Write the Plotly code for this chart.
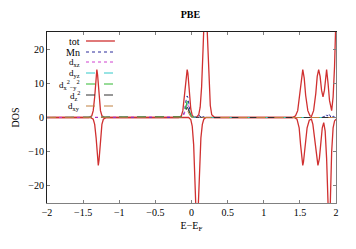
import plotly.graph_objects as go

# ---------------- data ----------------
E_up = [-2.0, -1.42, -1.38, -1.36, -1.34, -1.32, -1.31, -1.30, -1.28, -1.26, -1.24, -1.20,
        -0.18, -0.14, -0.12, -0.10, -0.08, -0.06, -0.05, -0.03, -0.01, 0.01, 0.04,
        0.07, 0.10, 0.12, 0.14, 0.16, 0.18, 0.19, 0.20, 0.22, 0.24, 0.26, 0.28, 0.32,
        1.40, 1.44, 1.47, 1.50, 1.52, 1.54, 1.56, 1.58, 1.61, 1.64,
        1.66, 1.69, 1.72, 1.74, 1.76, 1.78, 1.80, 1.82, 1.84, 1.86,
        1.87, 1.89, 1.91, 1.94, 1.96, 1.98, 2.0]
tot_up = [0, 0, 0.5, 2, 6, 12, 14, 12.5, 6.5, 2, 0.5, 0,
          0, 0.5, 2, 6, 12, 14, 13, 7, 2.5, 0.6, 0.1,
          0.1, 0.8, 3, 9, 20, 33, 38, 36, 24, 11, 3.5, 0.8, 0,
          0, 0.5, 2, 6.5, 11, 14, 11.5, 6.5, 2, 0.5,
          0.3, 2, 7, 12, 14, 12, 8, 6, 8, 12,
          14, 10, 5, 2, 6, 15, 30]

E_dn = [-2.0, -1.40, -1.36, -1.34, -1.32, -1.30, -1.29, -1.28, -1.26, -1.24, -1.22, -1.18,
        -0.04, -0.01, 0.01, 0.03, 0.05, 0.07, 0.09, 0.11, 0.13, 0.15, 0.17, 0.20,
        1.42, 1.46, 1.49, 1.51, 1.53, 1.54, 1.55, 1.57, 1.60, 1.63,
        1.66, 1.68, 1.71, 1.73, 1.75, 1.77, 1.79, 1.81, 1.83, 1.85,
        1.87, 1.89, 1.905, 1.92, 1.94, 1.96, 1.98, 2.0]
tot_dn = [0, 0, -0.5, -2, -6, -12, -14, -12.5, -6.5, -2, -0.5, 0,
          0, -0.6, -2.5, -8, -20, -32, -28, -15, -6, -2, -0.5, 0,
          0, -0.5, -3, -8, -13, -14, -13, -8, -3, -0.8,
          -0.5, -2, -7, -12, -14, -12, -7, -3, -1.5, -4,
          -12, -26, -35, -26, -10, -3, -1, -0.5]

E_pd = [-2.0, -0.16, -0.12, -0.10, -0.08, -0.07, -0.06, -0.05, -0.04, -0.02, 0.0, 0.04,
        0.08, 0.11, 0.13, 0.15, 0.17, 0.20,
        1.80, 1.84, 1.86, 1.88, 1.90, 1.92, 1.94, 1.96, 1.98, 2.0]
Mn   = [0, 0, 0.3, 1.5, 4.5, 5.8, 6.3, 5.8, 4.2, 1.5, 0.3, 0,
        0.2, 0.6, 0.1, 0.6, 0.1, 0,
        0, 0.3, 1.0, 0.4, 1.2, 0.3, -0.3, 0.4, 0.2, 0]
d_xz = [0, 0, 0.2, 1.0, 2.9, 3.7, 4.0, 3.7, 2.7, 1.0, 0.2, 0,
        0, 0.1, 0, 0.1, 0, 0,
        0, 0, 0.2, 0.1, 0.2, 0, 0, 0, 0, 0]
d_yz = [0, 0, 0.2, 1.1, 3.2, 4.1, 4.4, 4.1, 3.0, 1.1, 0.2, 0,
        0, 0.1, 0, 0.1, 0, 0,
        0, 0, 0.2, 0.1, 0.2, 0, 0, 0, 0, 0]
d_x2y2 = [0, 0, 0.2, 1.2, 3.5, 4.5, 4.8, 4.5, 3.3, 1.2, 0.2, 0,
          0, 0.1, 0, 0.1, 0, 0,
          0, 0, 0.2, 0.1, 0.2, 0, 0, 0, 0, 0]
d_z2 = [0, 0, 0.1, 0.7, 2.2, 2.8, 3.0, 2.8, 2.0, 0.7, 0.1, 0,
        0, 0.1, 0, 0.1, 0, 0,
        0, 0, 0.1, 0, 0.1, 0, 0, 0, 0, 0]
d_xy = [0, 0, 0.1, 0.5, 1.4, 1.8, 1.9, 1.8, 1.3, 0.5, 0.1, 0,
        0, 0, 0, 0, 0, 0,
        0, 0, 0.1, 0, 0.1, 0, 0, 0, 0, 0]

x_ticks = [-2, -1.5, -1, -0.5, 0, 0.5, 1, 1.5, 2]
x_ticklabels = ["\u22122", "\u22121.5", "\u22121", "\u22120.5", "0", "0.5", "1", "1.5", "2"]
y_ticks = [-20, -10, 0, 10, 20]
y_ticklabels = ["\u221220", "\u221210", "0", "10", "20"]

legend_labels = ["tot", "Mn", "d<sub>xz</sub>", "d<sub>yz</sub>",
                 "d<sub>x</sub><sup>2</sup><sub>\u2212y</sub><sup>2</sup>", "d<sub>z</sub><sup>2</sup>",
                 "d<sub>xy</sub>"]

# ---------------- styles ----------------
RED = "#d03030"
styles = [
    ("#2a2a9a", "dot"),      # Mn
    ("#d040d0", "dot"),      # dxz
    ("#30c8c8", "dash"),     # dyz
    ("#30b830", "dash"),     # dx2-y2
    ("#303030", "dash"),     # dz2
    ("#c08040", "dash"),     # dxy
]
FONT = "Liberation Serif"

fig = go.Figure()
fig.add_trace(go.Scatter(x=E_up, y=tot_up, mode="lines", line=dict(color=RED, width=1.3),
                         showlegend=False))
fig.add_trace(go.Scatter(x=E_dn, y=tot_dn, mode="lines", line=dict(color=RED, width=1.3),
                         showlegend=False))
pd_series = [Mn, d_xz, d_yz, d_x2y2, d_z2, d_xy]
for vals, (col, dash) in zip(pd_series, styles):
    fig.add_trace(go.Scatter(x=E_pd, y=vals, mode="lines",
                             line=dict(color=col, width=1, dash=dash), showlegend=False))

# manual gnuplot-style legend (text right-aligned, sample line to the right)
row_y = [41, 52, 62, 73, 84, 95, 106]
plot_top, plot_bot = 32, 203
all_styles = [(RED, "solid")] + styles
for i, (lab, py, (col, dash)) in enumerate(zip(legend_labels, row_y, all_styles)):
    yp = (plot_bot - py) / (plot_bot - plot_top)
    fig.add_annotation(xref="paper", yref="paper", x=0.122, y=yp, text=lab,
                       showarrow=False, xanchor="right", yanchor="middle",
                       font=dict(family=FONT, size=10 if i < 2 else 9, color="black"))
    fig.add_shape(type="line", xref="paper", yref="paper", x0=0.135, x1=0.235, y0=yp, y1=yp,
                  line=dict(color=col, width=1.3 if dash == "solid" else 1, dash=dash))

axis_common = dict(ticks="inside", ticklen=3, showgrid=False, zeroline=False, automargin=False,
                   tickfont=dict(family=FONT, size=10, color="black"))
fig.update_layout(
    width=356, height=249,
    margin=dict(l=47, r=20, t=32, b=46, autoexpand=False),
    paper_bgcolor="white", plot_bgcolor="white",
    font=dict(family=FONT, size=10, color="black"),
    title=dict(text="<b>PBE</b>", x=0.535, xanchor="center", y=0.94, yanchor="middle",
               font=dict(family=FONT, size=10, color="black")),
    xaxis=dict(range=[-2, 2], tickvals=x_ticks, ticktext=x_ticklabels,
               showline=True, linecolor="#808080", linewidth=1, tickcolor="#808080",
               title=dict(text="E\u2212E<sub>F</sub>", standoff=4,
                          font=dict(family=FONT, size=10, color="black")),
               **axis_common),
    yaxis=dict(range=[-25, 25], tickvals=y_ticks, ticktext=y_ticklabels,
               showline=True, linecolor="#202020", linewidth=1, tickcolor="#808080",
               title=dict(text="DOS", standoff=6,
                          font=dict(family=FONT, size=10, color="black")),
               **axis_common),
    xaxis2=dict(range=[-2, 2], overlaying="x", side="top", tickvals=x_ticks,
                showticklabels=False, showline=True, linecolor="#202020", linewidth=1,
                tickcolor="#808080", ticks="inside", ticklen=3, showgrid=False,
                zeroline=False, automargin=False),
    yaxis2=dict(range=[-25, 25], overlaying="y", side="right", tickvals=y_ticks,
                showticklabels=False, showline=True, linecolor="#808080", linewidth=1,
                tickcolor="#808080", ticks="inside", ticklen=3, showgrid=False,
                zeroline=False, automargin=False),
)
# invisible helper trace so the mirrored axes are drawn
fig.add_trace(go.Scatter(x=[-2, 2], y=[0, 0], xaxis="x2", yaxis="y2", mode="lines",
                         line=dict(width=0), hoverinfo="skip", showlegend=False))

fig.write_html("out.html", config={"displayModeBar": False, "staticPlot": True},
               post_script="document.body.style.margin='0';document.body.style.overflow='hidden';")
